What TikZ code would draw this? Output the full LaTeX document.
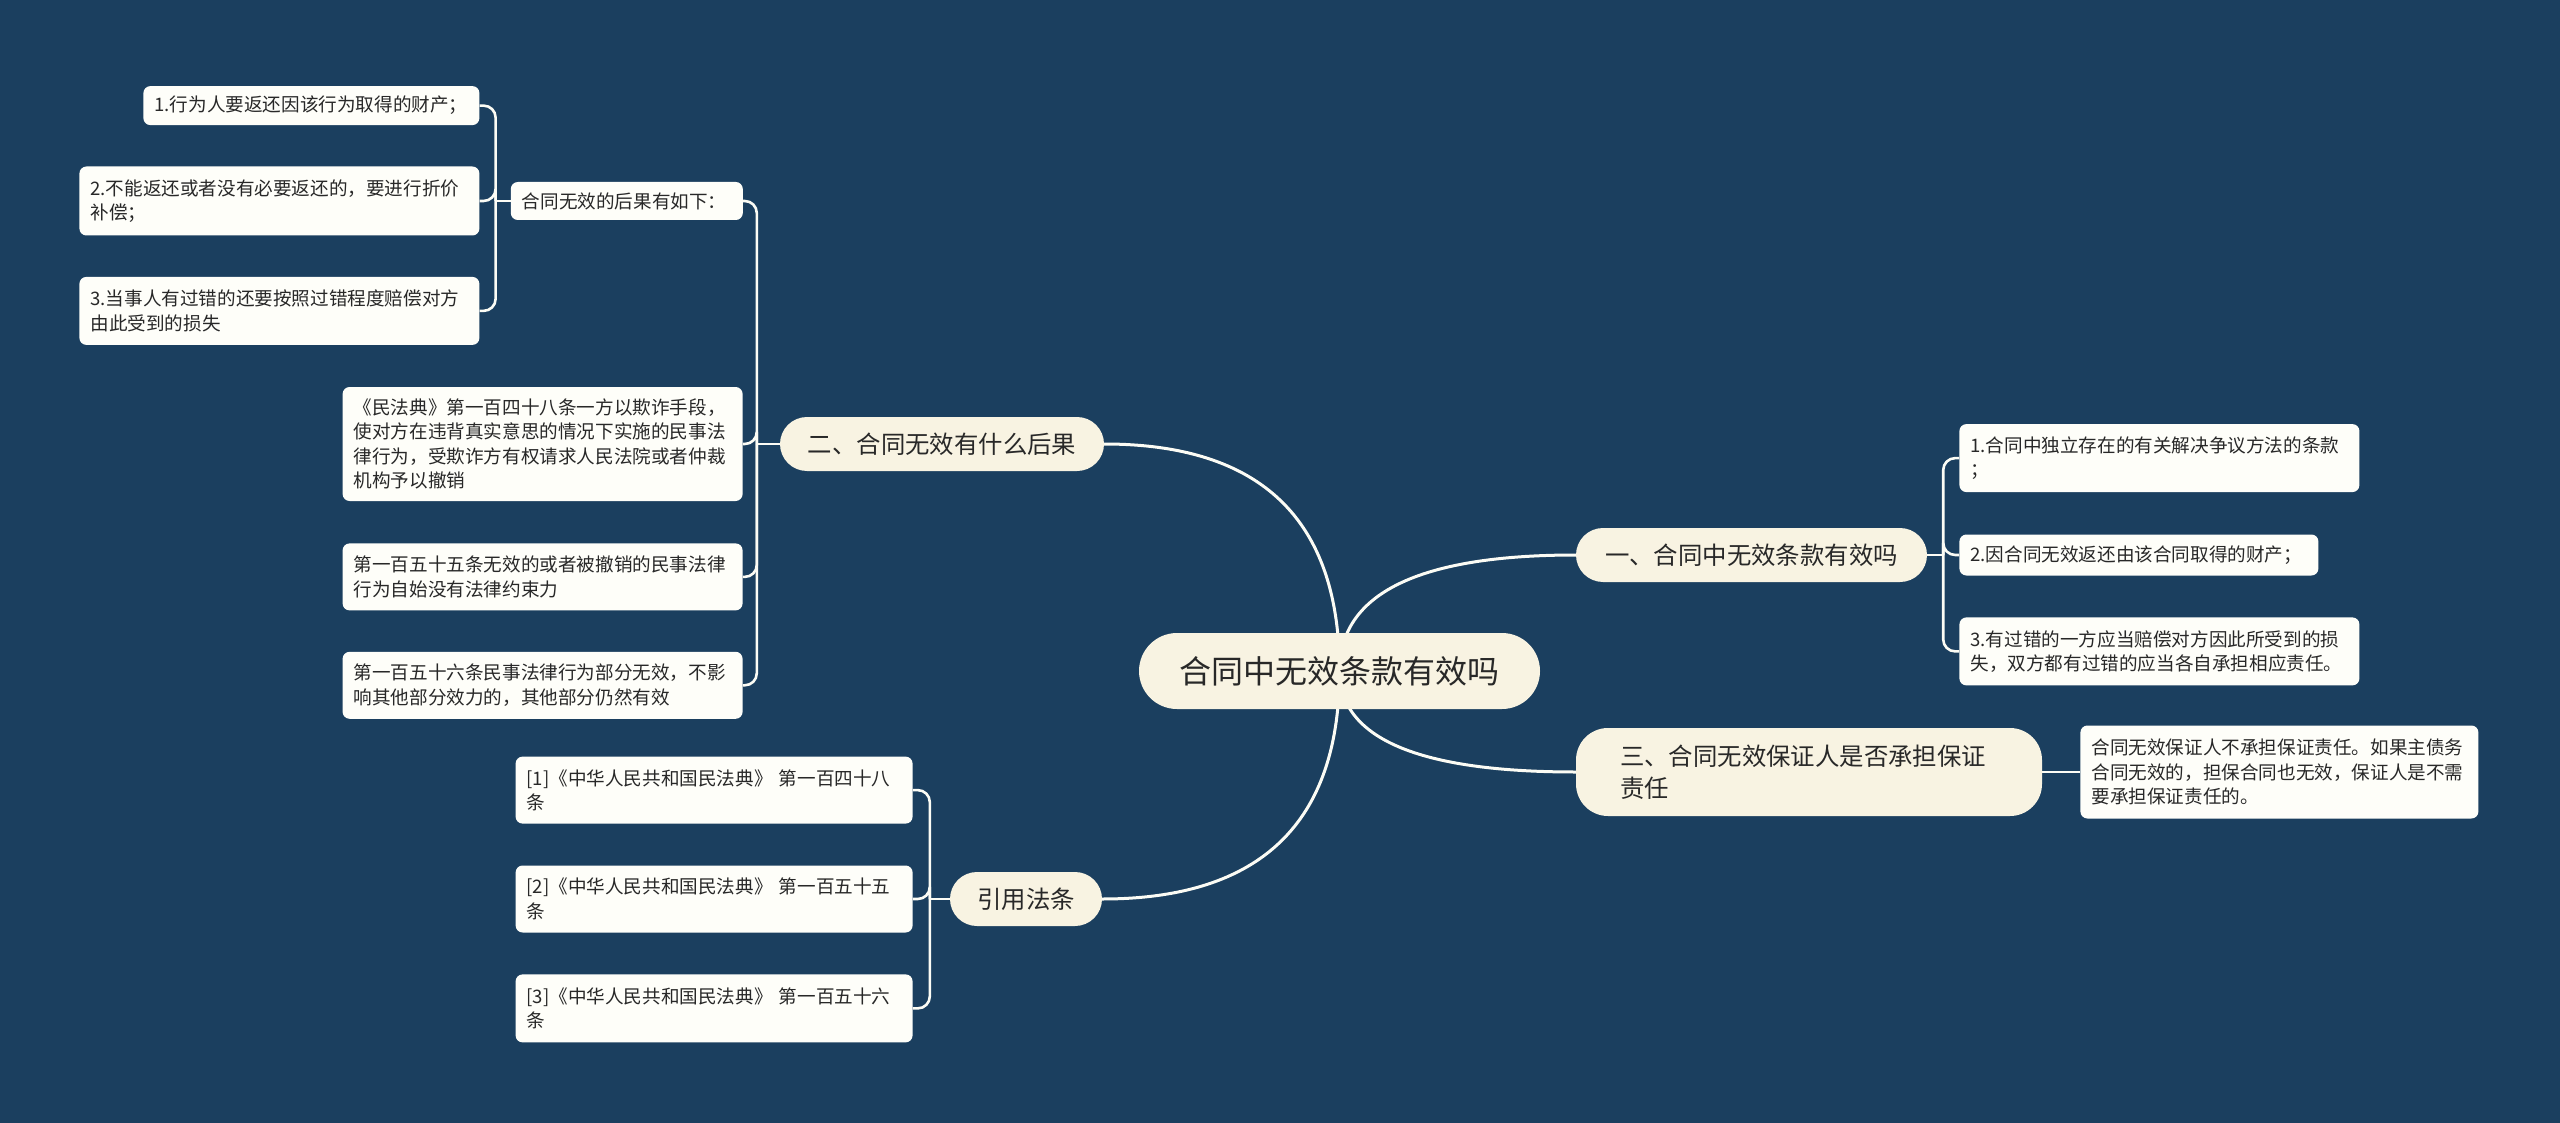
\documentclass[tikz,border=0pt]{standalone}
\usepackage{fontspec}
\setmainfont{Noto Sans CJK SC}
\usepackage{tikz}
\usetikzlibrary{
  positioning,
  calc,
  backgrounds
}
\definecolor{bgnavy}{RGB}{27,63,95}
\definecolor{topicbg}{RGB}{248,243,226}
\definecolor{leafbg}{RGB}{254,254,249}
\definecolor{inktext}{RGB}{40,40,40}
\definecolor{linkcolor}{RGB}{252,252,245}
\tikzset{
  rootnode/.style={
    fill=topicbg, rounded corners=38pt, inner sep=0pt,
    minimum width=401pt, minimum height=76pt,
    font=\fontsize{32}{38}\selectfont, text=inktext
  },
  topicnode/.style={
    fill=topicbg, rounded corners=27pt, inner sep=0pt,
    minimum height=54pt,
    font=\fontsize{24.4}{32}\selectfont, text=inktext
  },
  leafnode/.style={
    fill=leafbg, rounded corners=7pt, inner xsep=11pt, inner ysep=4pt,
    font=\fontsize{18.6}{24.5}\selectfont, text=inktext, align=left
  },
  trunk/.style={
    draw=linkcolor, line width=3pt
  },
  twig/.style={
    draw=linkcolor, line width=2.6pt, rounded corners=12pt
  }
}

\begin{document}
\begin{tikzpicture}[x=1pt, y=-1pt]

    \useasboundingbox (0,0) rectangle (2560,1123);

    \node[rootnode] (root) at (1339.5,671) {合同中无效条款有效吗};

    \node[topicnode, minimum width=351pt] (t1) at (1751.5,555) {一、合同中无效条款有效吗};
    \node[topicnode, minimum width=324pt] (t2) at (942,444) {二、合同无效有什么后果};
    \node[topicnode, minimum height=88pt, rounded corners=32pt, text width=378pt, inner xsep=44pt, align=left] (t3) at (1809,772) {三、合同无效保证人是否承担保证\\责任};
    \node[topicnode, minimum width=152pt] (t4) at (1026,899) {引用法条};

    % right side
    \node[leafnode, text width=337pt, minimum height=41pt, right=32pt of t1] (r2) {2.因合同无效返还由该合同取得的财产；};
    \node[leafnode, text width=378pt, minimum height=68pt, above=42pt of r2.north west, anchor=south west] (r1) {1.合同中独立存在的有关解决争议方法的条款\\；};
    \node[leafnode, text width=378pt, minimum height=68pt, below=41.5pt of r2.south west, anchor=north west] (r3) {3.有过错的一方应当赔偿对方因此所受到的损\\失，双方都有过错的应当各自承担相应责任。};

    \node[leafnode, text width=376pt, minimum height=93pt, right=38pt of t3] (s1) {合同无效保证人不承担保证责任。如果主债务\\合同无效的，担保合同也无效，保证人是不需\\要承担保证责任的。};

    % left side
    \node[leafnode, text width=378pt, minimum height=114pt, left=37pt of t2] (m1) {《民法典》第一百四十八条一方以欺诈手段，\\使对方在违背真实意思的情况下实施的民事法\\律行为，受欺诈方有权请求人民法院或者仲裁\\机构予以撤销};
    \node[leafnode, text width=378pt, minimum height=67pt, below=42pt of m1.south east, anchor=north east] (m2) {第一百五十五条无效的或者被撤销的民事法律\\行为自始没有法律约束力};
    \node[leafnode, text width=378pt, minimum height=67pt, below=41pt of m2.south east, anchor=north east] (m3) {第一百五十六条民事法律行为部分无效，不影\\响其他部分效力的，其他部分仍然有效};

    \node[leafnode, text width=210pt, minimum height=38pt, anchor=east] (q0) at (743,201) {合同无效的后果有如下：};
    \node[leafnode, text width=378pt, minimum height=69pt, left=31pt of q0] (q2) {2.不能返还或者没有必要返还的，要进行折价\\补偿；};
    \node[leafnode, text width=314pt, minimum height=39pt, above=41pt of q2.north east, anchor=south east] (q1) {1.行为人要返还因该行为取得的财产；};
    \node[leafnode, text width=378pt, minimum height=68pt, below=41pt of q2.south east, anchor=north east] (q3) {3.当事人有过错的还要按照过错程度赔偿对方\\由此受到的损失};

    \node[leafnode, text width=375pt, minimum height=67pt, left=37pt of t4] (y2) {[2]《中华人民共和国民法典》 第一百五十五\\条};
    \node[leafnode, text width=375pt, minimum height=67pt, above=41.5pt of y2.north east, anchor=south east] (y1) {[1]《中华人民共和国民法典》 第一百四十八\\条};
    \node[leafnode, text width=375pt, minimum height=68pt, below=41.5pt of y2.south east, anchor=north east] (y3) {[3]《中华人民共和国民法典》 第一百五十六\\条};

    \coordinate (j1) at ($(t1.east)+(16,0)$);
    \coordinate (j2) at ($(t2.west)+(-23,0)$);
    \coordinate (j0) at ($(q0.west)+(-15,0)$);
    \coordinate (j4) at ($(t4.west)+(-20,0)$);

    \begin{scope}[on background layer]
      \fill[bgnavy] (0,0) rectangle (2560,1123);

      \foreach \t/\side in {t1/west,t2/east,t3/west,t4/east}
        \draw[trunk] (root.center) .. controls ($(root.center)!.667!(root.center |- \t.\side)$) and ($(\t.\side)!.667!(root.center |- \t.\side)$) .. (\t.\side);

      \draw[twig] (t1.east) -- (j1);
      \foreach \k in {r1,r2,r3}
        \draw[twig] (j1) |- (\k.west);

      \draw[twig] (t3.east) -- (s1.west);

      \draw[twig] (t2.west) -- (j2);
      \foreach \k in {q0,m1,m2,m3}
        \draw[twig] (j2) |- (\k.east);

      \draw[twig] (q0.west) -- (j0);
      \foreach \k in {q1,q2,q3}
        \draw[twig] (j0) |- (\k.east);

      \draw[twig] (t4.west) -- (j4);
      \foreach \k in {y1,y2,y3}
        \draw[twig] (j4) |- (\k.east);
    \end{scope}

  \end{tikzpicture}
\end{document}
